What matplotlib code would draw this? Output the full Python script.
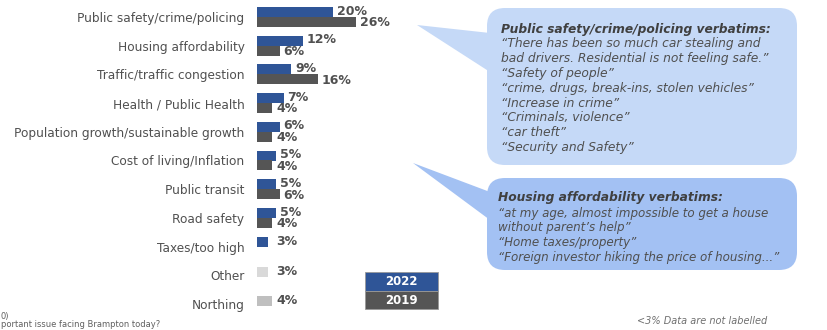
import matplotlib.pyplot as plt
from matplotlib.patches import FancyBboxPatch, Polygon, Rectangle

categories = ['Public safety/crime/policing', 'Housing affordability',
              'Traffic/traffic congestion', 'Health / Public Health',
              'Population growth/sustainable growth', 'Cost of living/Inflation',
              'Public transit', 'Road safety', 'Taxes/too high', 'Other', 'Northing']
vals_2022 = [20, 12, 9, 7, 6, 5, 5, 5, 3, None, None]
vals_2019 = [26, 6, 16, 4, 4, 4, 6, 4, None, None, None]
single_vals = {'Other': 3, 'Northing': 4}
single_colors = {'Other': '#D9D9D9', 'Northing': '#BFBFBF'}

years = ['2022', '2019']
blue = '#2F5597'
grey = '#555555'
txt = '#505050'

bubble1_title = 'Public safety/crime/policing verbatims:'
bubble1_lines = ['\u201cThere has been so much car stealing and',
                 'bad drivers. Residential is not feeling safe.\u201d',
                 '\u201cSafety of people\u201d',
                 '\u201ccrime, drugs, break-ins, stolen vehicles\u201d',
                 '\u201cIncrease in crime\u201d',
                 '\u201cCriminals, violence\u201d',
                 '\u201ccar theft\u201d',
                 '\u201cSecurity and Safety\u201d']
bubble2_title = 'Housing affordability verbatims:'
bubble2_lines = ['\u201cat my age, almost impossible to get a house',
                 'without parent\u2019s help\u201d',
                 '\u201cHome taxes/property\u201d',
                 '\u201cForeign investor hiking the price of housing...\u201d']

W, H = 828, 330
fig = plt.figure(figsize=(W / 100, H / 100), dpi=100)

# overlay in pixel coordinates for bubbles and notes
ov = fig.add_axes([0, 0, 1, 1])
ov.set_xlim(0, W)
ov.set_ylim(H, 0)
ov.axis('off')

# bar axes: x from 257px, 3.8 px per percent; rows 28.7px apart starting at 17px
px_per_pct = 3.8
ax_left, ax_right = 257, 460
row0, row_h = 17, 28.7
ax = fig.add_axes([ax_left / W, 0, (ax_right - ax_left) / W, 1])
ax.set_xlim(0, (ax_right - ax_left) / px_per_pct)
ax.set_ylim((H - row0) / row_h, -row0 / row_h)
ax.patch.set_alpha(0)
for s in ax.spines.values():
    s.set_visible(False)
ax.set_xticks([])

bh = 10 / row_h
lab_off = 1.0
for i, cat in enumerate(categories):
    a, b = vals_2022[i], vals_2019[i]
    if a is not None and b is not None:
        ax.barh(i - bh / 2, a, height=bh, color=blue)
        ax.barh(i + bh / 2, b, height=bh, color=grey)
        ax.text(a + lab_off, i - bh / 2 - 0.03, f'{a}%', va='center', ha='left',
                fontsize=9, fontweight='bold', color=txt)
        ax.text(b + lab_off, i + bh / 2 + 0.03, f'{b}%', va='center', ha='left',
                fontsize=9, fontweight='bold', color=txt)
    elif a is not None:
        ax.barh(i - bh / 2, a, height=bh, color=blue)
        ax.text(a + 2, i - bh / 2, f'{a}%', va='center', ha='left',
                fontsize=9, fontweight='bold', color=txt)
    else:
        v = single_vals[cat]
        ax.barh(i - 0.12, v, height=bh, color=single_colors[cat])
        ax.text(3 + 2, i - 0.12, f'{v}%', va='center', ha='left',
                fontsize=9, fontweight='bold', color=txt)

ax.set_yticks(range(len(categories)))
ax.set_yticklabels(categories, fontsize=8.7, color=txt)
ax.tick_params(axis='y', length=0, pad=9)

# speech bubbles
c1, c2 = '#C5D9F7', '#A3C1F3'
ov.add_patch(Polygon([(417, 25), (490, 33), (490, 72)], closed=True, color=c1, lw=0))
ov.add_patch(FancyBboxPatch((487, 8), 310, 157, boxstyle='round,pad=0,rounding_size=18',
                            fc=c1, ec='none'))
ov.add_patch(Polygon([(413, 163), (490, 192), (490, 220)], closed=True, color=c2, lw=0))
ov.add_patch(FancyBboxPatch((487, 178), 310, 92, boxstyle='round,pad=0,rounding_size=18',
                            fc=c2, ec='none'))

ov.text(501, 29, bubble1_title, fontsize=8.8, fontweight='bold', fontstyle='italic',
        color='#404040', va='center')
for k, line in enumerate(bubble1_lines):
    ov.text(501, 43.5 + 14.9 * k, line, fontsize=8.8, fontstyle='italic',
            color=txt, va='center')
ov.text(498, 198, bubble2_title, fontsize=8.8, fontweight='bold', fontstyle='italic',
        color='#404040', va='center')
for k, line in enumerate(bubble2_lines):
    ov.text(498, 213 + 14.8 * k, line, fontsize=8.6, fontstyle='italic',
            color=txt, va='center')

# legend box
ov.add_patch(Rectangle((365, 272), 73, 18.5, fc=blue, ec='#999999', lw=0.6))
ov.add_patch(Rectangle((365, 290.5), 73, 18.5, fc=grey, ec='#999999', lw=0.6))
ov.text(401.5, 281.5, years[0], color='white', fontsize=8.5, fontweight='bold',
        ha='center', va='center')
ov.text(401.5, 300, years[1], color='white', fontsize=8.5, fontweight='bold',
        ha='center', va='center')

# notes
ov.text(767, 321, '<3% Data are not labelled', fontsize=7, fontstyle='italic',
        color='#707070', ha='right', va='center')
ov.text(1, 316, '0)', fontsize=6, color='#606060', va='center')
ov.text(1, 329, 'portant issue facing Brampton today?', fontsize=6,
        color='#606060', ha='left', va='bottom')

fig.savefig('out.png', dpi=100)
